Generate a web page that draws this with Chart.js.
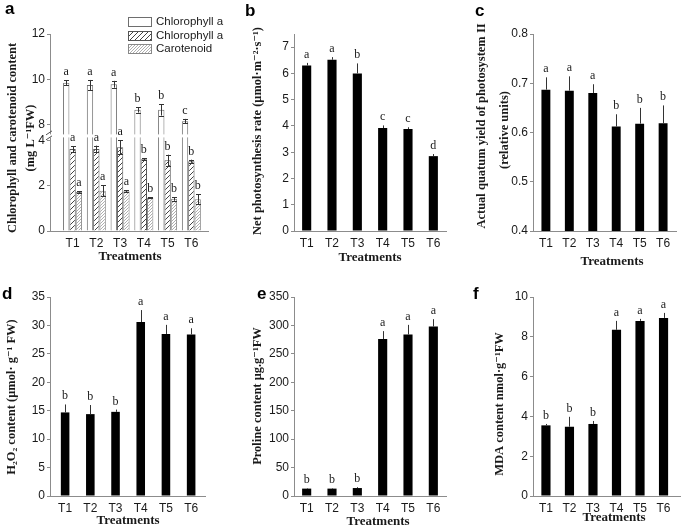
<!DOCTYPE html>
<html><head><meta charset="utf-8"><title>Chart</title>
<script src="https://cdn.jsdelivr.net/npm/chart.js@4.4.1/dist/chart.umd.min.js"></script>
<style>
html,body{margin:0;padding:0;background:#fff;width:685px;height:528px;overflow:hidden;}
canvas{position:absolute;}
</style></head><body>
<canvas id="pb" width="229" height="265" style="left:228px;top:0"></canvas>
<canvas id="pa" width="236" height="265" style="left:0;top:0"></canvas>
<canvas id="pc" width="228" height="265" style="left:457px;top:0"></canvas>
<canvas id="pd" width="228" height="263" style="left:0;top:265px"></canvas>
<canvas id="pe" width="229" height="263" style="left:228px;top:265px"></canvas>
<canvas id="pf" width="228" height="263" style="left:457px;top:265px"></canvas>
<script>
// ---------------- data ----------------
const treatments = ['T1','T2','T3','T4','T5','T6'];

// a: pigments
const legendLabels = ['Chlorophyll a', 'Chlorophyll a', 'Carotenoid'];
const chlA = [9.85, 9.75, 9.78, 8.65, 8.65, 8.15];
const chlAErr = [0.10, 0.22, 0.15, 0.12, 0.25, 0.10];
const chlALetters = ['a','a','a','b','b','c'];
const chlB = [3.62, 3.62, 3.70, 3.17, 3.12, 3.08];
const chlBErr = [0.12, 0.15, 0.30, 0.04, 0.25, 0.07];
const chlBLetters = ['a','a','a','b','b','b'];
const carot = [1.72, 1.78, 1.76, 1.48, 1.42, 1.40];
const carotErr = [0.03, 0.25, 0.05, 0.02, 0.08, 0.22];
const carotLetters = ['a','a','a','b','b','b'];
const aTicksTop = [8, 10, 12];
const aTicksBottom = [0, 2, 4];

// b: net photosynthesis
const pn = [6.30, 6.52, 6.00, 3.92, 3.88, 2.85];
const pnErr = [0.10, 0.10, 0.38, 0.10, 0.07, 0.08];
const pnLetters = ['a','a','b','c','c','d'];
const pnTicks = [0, 1, 2, 3, 4, 5, 6, 7];

// c: quantum yield PSII
const phi = [0.687, 0.685, 0.680, 0.612, 0.618, 0.619];
const phiErr = [0.025, 0.029, 0.018, 0.025, 0.032, 0.036];
const phiLetters = ['a','a','a','b','b','b'];
const phiTicks = [0.4, 0.5, 0.6, 0.7, 0.8];

// d: H2O2
const h2o2 = [14.7, 14.4, 14.8, 30.6, 28.5, 28.4];
const h2o2Err = [1.4, 1.6, 0.4, 2.1, 1.6, 1.1];
const h2o2Letters = ['b','b','b','a','a','a'];
const h2o2Ticks = [0, 5, 10, 15, 20, 25, 30, 35];

// e: proline
const proline = [13, 13, 14, 276, 284, 298];
const prolineErr = [1, 1, 1.5, 14, 17, 13];
const prolineLetters = ['b','b','b','a','a','a'];
const prolineTicks = [0, 50, 100, 150, 200, 250, 300, 350];

// f: MDA
const mda = [3.55, 3.48, 3.62, 8.35, 8.80, 8.95];
const mdaErr = [0.07, 0.50, 0.15, 0.45, 0.10, 0.25];
const mdaLetters = ['b','b','b','a','a','a'];
const mdaTicks = [0, 2, 4, 6, 8, 10];

// ---------------- layout / style ----------------
const SANS = "'Liberation Sans', Arial, sans-serif";
const SERIF = "'Liberation Serif', 'Times New Roman', 'DejaVu Serif', serif";
const AXIS = '#8c8c8c';
const TXT = '#1a1a1a';
const YW = 40, XH = 26;

const panels = {
  a: {box:[0,0,236,265],   left:50,  right:208, top:34,  bottom:231, xmin:0.05, xmax:6.7},
  b: {box:[228,0,229,265], left:294, right:446, top:34,  bottom:231, xmin:0.5,  xmax:6.5,  bar:0.36},
  c: {box:[457,0,228,265], left:533, right:676, top:34,  bottom:231, xmin:0.45, xmax:6.55, bar:0.38},
  d: {box:[0,265,228,263], left:50,  right:205, top:297, bottom:496, xmin:0.4,  xmax:6.55, bar:0.34},
  e: {box:[228,265,229,263], left:294, right:446, top:297, bottom:496, xmin:0.5, xmax:6.5, bar:0.36},
  f: {box:[457,265,228,263], left:533, right:680, top:297, bottom:496, xmin:0.45, xmax:6.7, bar:0.39}
};
const texts = {
  a: {label:['a',5,14],   y:[['Chlorophyll and carotenoid content',13,138],['(mg L\u207B\u00B9FW)',31,138]], x:['Treatments',130,257]},
  b: {label:['b',245,16], y:[['Net photosynthesis rate (\u03BCmol\u00B7m\u207B\u00B2\u00B7s\u207B\u00B9)',258,131]], x:['Treatments',370,258]},
  c: {label:['c',475,16], y:[['Actual quatum yield of photosystem II',482,126],['(relative units)',505,130]], x:['Treatments',612,262]},
  d: {label:['d',2,299],  y:[['H\u2082O\u2082 content (\u03BCmol\u00B7 g\u207B\u00B9 FW)',12,397]], x:['Treatments',128,521]},
  e: {label:['e',257,299],y:[['Proline content \u03BCg.g\u207B\u00B9FW',258,396]], x:['Treatments',378,522]},
  f: {label:['f',473,299],y:[['MDA content nmol\u00B7g\u207B\u00B9FW',500,404]], x:['Treatments',614,518]}
};

function hatch(size, color, lw) {
  const c = document.createElement('canvas'); c.width = size; c.height = size;
  const g = c.getContext('2d');
  g.fillStyle = '#fff'; g.fillRect(0, 0, size, size);
  g.strokeStyle = color; g.lineWidth = lw;
  g.beginPath();
  g.moveTo(0, size); g.lineTo(size, 0);
  g.moveTo(-size, size); g.lineTo(size, -size);
  g.moveTo(0, 2 * size); g.lineTo(2 * size, 0);
  g.stroke();
  return g.createPattern(c, 'repeat');
}
const hatchB = hatch(5, '#444', 1);
const hatchC = hatch(3, '#9a9a9a', 0.8);

function mkX(g) {
  return {type:'linear', min:g.xmin, max:g.xmax, offset:false,
    afterBuildTicks: s => { s.ticks = treatments.map((t, i) => ({value: i + 1})); },
    ticks:{callback: v => treatments[Math.round(v) - 1] || '', font:{family:SANS, size:12}, color:TXT, padding:3, maxRotation:0, autoSkip:false},
    grid:{display:false, drawTicks:true, tickLength:2},
    border:{display:true, color:AXIS, width:1},
    afterFit: s => { s.height = XH; }
  };
}
function mkY(min, max, ticks, fmt, extra) {
  return Object.assign({type:'linear', position:'left', min:min, max:max,
    afterBuildTicks: s => { s.ticks = ticks.map(v => ({value: v})); },
    ticks:{callback: fmt || (v => String(v)), font:{family:SANS, size:12}, color:TXT, padding:2, autoSkip:false},
    grid:{display:true, drawOnChartArea:false, drawTicks:true, tickLength:3, color:AXIS},
    border:{display:true, color:AXIS, width:1},
    afterFit: s => { s.width = YW; }
  }, extra || {});
}
function pad(g) {
  const [ox, oy, w, h] = g.box;
  return {left: g.left - ox - YW, right: ox + w - g.right, top: g.top - oy, bottom: oy + h - g.bottom - XH};
}
function pts(vals) { return vals.map((v, i) => ({x: i + 1, y: v})); }
function baseOpts(g) {
  return {responsive:false, maintainAspectRatio:false, animation:false, devicePixelRatio:1, events:[],
    layout:{padding:pad(g)}, plugins:{legend:{display:false}, tooltip:{enabled:false}}};
}

function decorPlugin(key, errSpecs, extra) {
  const t = texts[key];
  const [ox, oy] = panels[key].box;
  return {
    id: 'decor' + key,
    afterDatasetsDraw(chart) {
      const ctx = chart.ctx;
      ctx.save();
      if (extra && extra.brk) extra.brk(chart, ctx);
      for (const s of errSpecs) {
        const meta = chart.getDatasetMeta(s.ds);
        const ys = chart.scales[meta.yAxisID];
        meta.data.forEach((el, i) => {
          const v = s.values[i], e = s.err[i];
          const x = Math.round(el.x) + 0.5;
          const top = ys.getPixelForValue(v + e);
          const bot = ys.getPixelForValue(s.both ? v - e : v);
          ctx.strokeStyle = '#333'; ctx.lineWidth = 1;
          ctx.beginPath();
          ctx.moveTo(x, bot); ctx.lineTo(x, top);
          if (s.cap) {
            const ty = Math.round(top) + 0.5, by = Math.round(bot) + 0.5;
            ctx.moveTo(x - s.cap, ty); ctx.lineTo(x + s.cap, ty);
            if (s.both) { ctx.moveTo(x - s.cap, by); ctx.lineTo(x + s.cap, by); }
          }
          ctx.stroke();
          ctx.fillStyle = TXT; ctx.font = '12px ' + SERIF;
          ctx.textAlign = 'center'; ctx.textBaseline = 'alphabetic';
          ctx.fillText(s.letters[i], el.x, top - 5);
        });
      }
      ctx.restore();
    },
    afterDraw(chart) {
      const ctx = chart.ctx;
      ctx.save();
      ctx.translate(-ox, -oy);
      ctx.fillStyle = '#000'; ctx.font = 'bold 17px ' + SANS;
      ctx.textAlign = 'left'; ctx.textBaseline = 'alphabetic';
      ctx.fillText(t.label[0], t.label[1], t.label[2]);
      ctx.fillStyle = TXT;
      ctx.font = 'bold 12.5px ' + SERIF; ctx.textAlign = 'center'; ctx.textBaseline = 'middle';
      for (const [s, x, y] of t.y) {
        ctx.save(); ctx.translate(x, y); ctx.rotate(-Math.PI / 2); ctx.fillText(s, 0, 0); ctx.restore();
      }
      ctx.font = 'bold 13px ' + SERIF;
      ctx.fillText(t.x[0], t.x[1], t.x[2]);
      if (extra && extra.legend) extra.legend(chart, ctx);
      ctx.restore();
    }
  };
}

function simple(key, vals, errs, letters, ymin, ymax, ticks, fmt) {
  const g = panels[key];
  const opts = baseOpts(g);
  opts.scales = {x: mkX(g), y: mkY(ymin, ymax, ticks, fmt)};
  return new Chart(document.getElementById('p' + key), {
    type:'bar',
    data:{datasets:[{label:key, data:pts(vals), backgroundColor:'#000', borderWidth:0, barPercentage:g.bar, categoryPercentage:1}]},
    options:opts,
    plugins:[decorPlugin(key, [{ds:0, values:vals, err:errs, letters:letters, both:false, cap:0}])]
  });
}

// ---------------- panel a (broken axis) ----------------
(function () {
  const g = panels.a;
  const opts = baseOpts(g);
  opts.scales = {
    x: mkX(g),
    yBot: mkY(0, 4.2, aTicksBottom, null, {stack:'a', stackWeight:4.2, weight:0, stacked:false}),
    yTop: mkY(7.5, 12, aTicksTop, null, {stack:'a', stackWeight:4.5, weight:1, stacked:false})
  };
  const common = {borderWidth:1, barPercentage:1, categoryPercentage:0.8};
  const extra = {
    brk(chart, ctx) {
      const by = chart.scales.yTop.bottom;
      const L = chart.chartArea.left, R = chart.chartArea.right;
      ctx.fillStyle = '#fff'; ctx.fillRect(L - 1.5, by - 1.5, R - L + 2, 3);
      ctx.strokeStyle = '#555'; ctx.lineWidth = 1;
      ctx.beginPath();
      ctx.moveTo(L - 4, by - 1); ctx.lineTo(L + 2, by - 5);
      ctx.moveTo(L - 4, by + 4); ctx.lineTo(L + 2, by);
      ctx.stroke();
    },
    legend(chart, ctx) {
      const ds = chart.data.datasets; const idx = [0, 2, 3];
      legendLabels.forEach((lab, i) => {
        const y = Math.round(22 + i * 13.5);
        const d = ds[idx[i]];
        ctx.fillStyle = d.backgroundColor; ctx.fillRect(128, y - 5, 24, 10);
        ctx.strokeStyle = d.borderColor; ctx.lineWidth = 1; ctx.strokeRect(128.5, y - 4.5, 23, 9);
        ctx.fillStyle = TXT; ctx.font = '11.5px ' + SANS; ctx.textAlign = 'left'; ctx.textBaseline = 'middle';
        ctx.fillText(lab, 156, y);
      });
    }
  };
  new Chart(document.getElementById('pa'), {
    type:'bar',
    data:{datasets:[
      Object.assign({label:legendLabels[0], data:pts(chlA), yAxisID:'yTop', stack:'ca', backgroundColor:'#fff', borderColor:'#6e6e6e'}, common),
      Object.assign({label:legendLabels[0], data:pts(chlA), yAxisID:'yBot', stack:'ca', backgroundColor:'#fff', borderColor:'#6e6e6e'}, common),
      Object.assign({label:legendLabels[1], data:pts(chlB), yAxisID:'yBot', stack:'cb', backgroundColor:hatchB, borderColor:'#555'}, common),
      Object.assign({label:legendLabels[2], data:pts(carot), yAxisID:'yBot', stack:'car', backgroundColor:hatchC, borderColor:'#888'}, common)
    ]},
    options:opts,
    plugins:[decorPlugin('a', [
      {ds:0, values:chlA, err:chlAErr, letters:chlALetters, both:true, cap:2.5},
      {ds:2, values:chlB, err:chlBErr, letters:chlBLetters, both:true, cap:2.5},
      {ds:3, values:carot, err:carotErr, letters:carotLetters, both:true, cap:2.5}
    ], extra)]
  });
})();

simple('b', pn, pnErr, pnLetters, 0, 7.5, pnTicks);
simple('c', phi, phiErr, phiLetters, 0.4, 0.8, phiTicks, v => Number(v).toFixed(1));
simple('d', h2o2, h2o2Err, h2o2Letters, 0, 35, h2o2Ticks);
simple('e', proline, prolineErr, prolineLetters, 0, 350, prolineTicks);
simple('f', mda, mdaErr, mdaLetters, 0, 10, mdaTicks);
</script></body></html>
